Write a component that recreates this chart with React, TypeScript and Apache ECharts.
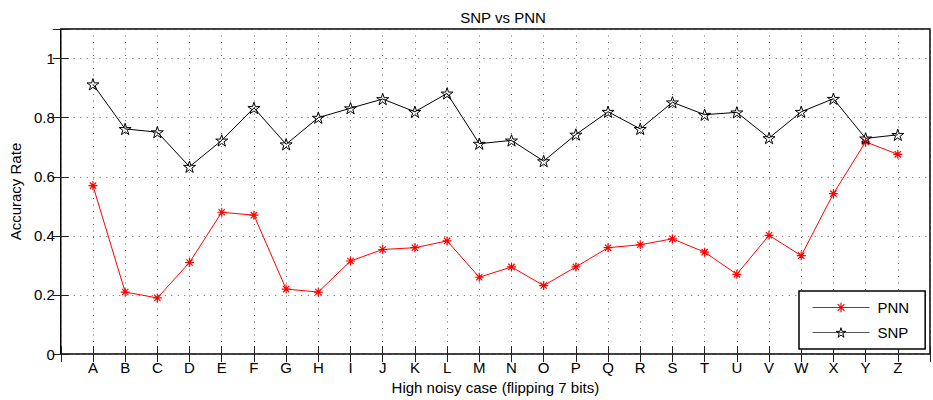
import React, { useEffect, useRef } from "react";
import * as echarts from "echarts";

const categories = ["A","B","C","D","E","F","G","H","I","J","K","L","M","N","O","P","Q","R","S","T","U","V","W","X","Y","Z"];
const pnnValues = [0.57,0.21,0.19,0.31,0.48,0.47,0.22,0.21,0.315,0.354,0.36,0.383,0.26,0.295,0.232,0.295,0.36,0.37,0.39,0.345,0.27,0.402,0.333,0.543,0.718,0.676];
const snpValues = [0.913,0.762,0.751,0.634,0.723,0.833,0.71,0.80,0.832,0.863,0.82,0.882,0.712,0.723,0.653,0.743,0.82,0.762,0.852,0.81,0.818,0.731,0.82,0.864,0.73,0.742];
const yTicks = [0, 0.2, 0.4, 0.6, 0.8, 1];

const STAR = "path://M0,-100L22.45,-30.9L95.1,-30.9L36.3,11.8L58.8,80.9L0,38.2L-58.8,80.9L-36.3,11.8L-95.1,-30.9L-22.45,-30.9Z";
const ASTER = "path://M0,-100L0,100M-100,0L100,0M-70,-70L70,70M-70,70L70,-70";

const FONT = "'Liberation Sans', Arial, Helvetica, sans-serif";

export default function App() {
  const ref = useRef<HTMLDivElement>(null);
  useEffect(() => {
    document.body.style.margin = "0";
    if (!ref.current) return;
    const chart = echarts.init(ref.current, undefined, { renderer: "svg" });
    const gridLine = { show: true, lineStyle: { color: "#666", width: 1, type: [1, 5.5] as any } };
    const xBase = { type: "value" as const, min: 0, max: 27, interval: 1 };
    const yBase = { type: "value" as const, min: 0, max: 1.1, interval: 0.2 };
    const tick = { show: true, inside: true, length: 8, lineStyle: { color: "#222", width: 1 } };
    chart.setOption({
      animation: false,
      backgroundColor: "#fff",
      textStyle: { fontFamily: FONT },
      title: {
        text: "SNP vs PNN",
        left: 498,
        top: 5,
        textAlign: "center",
        textStyle: { fontFamily: FONT, fontSize: 15, fontWeight: "normal", color: "#000" },
      },
      grid: {
        left: 59,
        top: 29,
        bottom: 43,
        right: -5,
        show: true,
        borderColor: "#000",
        borderWidth: 1.5,
        backgroundColor: "transparent",
      },
      legend: {
        orient: "vertical",
        left: 799,
        top: 291,
        padding: [9, 16, 9, 13],
        itemGap: 10,
        itemWidth: 57,
        itemHeight: 12,
        backgroundColor: "#fff",
        borderColor: "#000",
        borderWidth: 1.5,
        textStyle: { fontFamily: FONT, fontSize: 15, color: "#000", padding: [0, 0, 0, 3] },
        data: [
          {
            name: "PNN",
            itemStyle: { color: "#ff0000", borderColor: "#ff0000", borderWidth: 1.2 },
            lineStyle: { color: "#ff0000", width: 1 },
          },
          {
            name: "SNP",
            itemStyle: { color: "rgba(0,0,0,0)", borderColor: "#000", borderWidth: 1 },
            lineStyle: { color: "#555", width: 1 },
          },
        ],
      },
      xAxis: [
        {
          ...xBase,
          position: "bottom",
          name: "High noisy case (flipping 7 bits)",
          nameLocation: "middle",
          nameGap: 23,
          nameTextStyle: { fontFamily: FONT, fontSize: 15, color: "#000" },
          axisLine: { show: false },
          axisTick: tick,
          splitLine: gridLine,
          axisLabel: {
            margin: 6,
            fontFamily: FONT,
            fontSize: 15,
            color: "#000",
            formatter: (v: number) => (v >= 1 && v <= categories.length ? categories[v - 1] : ""),
          },
        },
        {
          ...xBase,
          position: "top",
          axisLine: { show: false },
          axisTick: tick,
          splitLine: { show: false },
          axisLabel: { show: false },
        },
      ],
      yAxis: [
        {
          ...yBase,
          position: "left",
          name: "Accuracy Rate",
          nameLocation: "middle",
          nameRotate: 90,
          nameGap: 36,
          nameTextStyle: { fontFamily: FONT, fontSize: 15, color: "#000" },
          axisLine: { show: false },
          axisTick: tick,
          splitLine: gridLine,
          axisLabel: {
            margin: 6,
            fontFamily: FONT,
            fontSize: 15,
            color: "#000",
            formatter: (v: number) => {
              const r = Math.round(v * 10) / 10;
              return yTicks.some((t) => Math.abs(t - r) < 1e-6) && Math.abs(v - r) < 1e-6 ? String(r) : "";
            },
          },
        },
        {
          ...yBase,
          position: "right",
          axisLine: { show: false },
          axisTick: tick,
          splitLine: { show: false },
          axisLabel: { show: false },
        },
      ],
      series: [
        {
          name: "PNN",
          type: "line",
          data: pnnValues.map((v, i) => [i + 1, v]),
          symbol: ASTER,
          symbolSize: 9,
          symbolKeepAspect: true,
          lineStyle: { color: "#ff0000", width: 1 },
          itemStyle: { color: "#ff0000", borderColor: "#ff0000", borderWidth: 1.2 },
          emphasis: { disabled: true },
          z: 3,
        },
        {
          name: "SNP",
          type: "line",
          data: snpValues.map((v, i) => [i + 1, v]),
          symbol: STAR,
          symbolSize: 12,
          symbolKeepAspect: true,
          lineStyle: { color: "#000", width: 1 },
          itemStyle: { color: "rgba(0,0,0,0)", borderColor: "#000", borderWidth: 1 },
          emphasis: { disabled: true },
          z: 3,
        },
      ],
    });
    return () => chart.dispose();
  }, []);
  return <div ref={ref} style={{ width: 933, height: 400 }} />;
}
